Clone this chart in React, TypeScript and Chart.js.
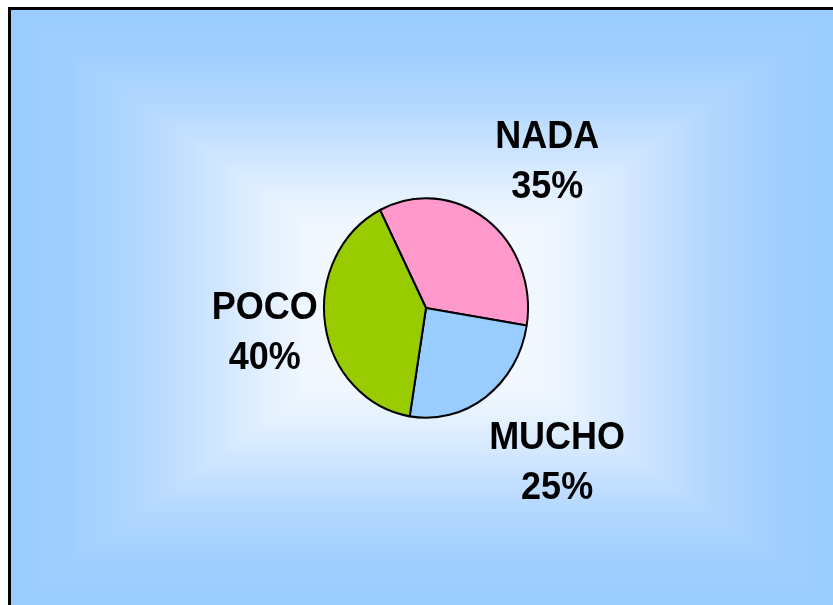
import React, { useEffect, useRef } from "react";
import { Chart, registerables } from "chart.js";

Chart.register(...registerables);

// ---- data ----
const categories = ["NADA", "MUCHO", "POCO"];
const shares = [35, 25, 40];
const sliceColors = ["#FF99CC", "#99CCFF", "#99CC00"];

// ---- styling / layout constants ----
const Y_STRETCH = 1.076;
const labelTurnDeg = [5.0, -7.0, 1.5];
const labelReach = [1.804, 1.892, 1.593];

const gradStops: [number, number[]][] = [
  [0, [255, 255, 255]],
  [0.3, [238, 246, 255]],
  [0.45, [217, 235, 255]],
  [0.55, [200, 226, 255]],
  [0.7, [176, 214, 255]],
  [0.85, [160, 207, 255]],
  [1, [153, 204, 255]],
];

function gradColor(t: number): number[] {
  if (t <= 0) return gradStops[0][1];
  for (let i = 1; i < gradStops.length; i++) {
    const [o1, c1] = gradStops[i];
    const [o0, c0] = gradStops[i - 1];
    if (t <= o1) {
      const f = (t - o0) / (o1 - o0);
      return [0, 1, 2].map((k) => c0[k] + (c1[k] - c0[k]) * f);
    }
  }
  return gradStops[gradStops.length - 1][1];
}

const backdropPlugin = {
  id: "backdrop",
  beforeDraw(chart: any) {
    const ctx = chart.ctx as CanvasRenderingContext2D;
    const W = chart.canvas.width;
    const H = chart.canvas.height;
    const x0 = 10, y0 = 9, x1 = 842, y1 = 607;
    const cx = (x0 + x1) / 2;
    const cy = (y0 + y1) / 2;
    const hw = (x1 - x0) / 2;
    const hh = (y1 - y0) / 2;
    const img = ctx.createImageData(W, H);
    const d = img.data;
    for (let y = 0; y < H; y++) {
      for (let x = 0; x < W; x++) {
        const p = (y * W + x) * 4;
        let c = [255, 255, 255];
        if (x >= x0 && y >= y0) {
          const t = Math.max(Math.abs(x + 0.5 - cx) / hw, Math.abs(y + 0.5 - cy) / hh);
          c = gradColor(t);
        }
        d[p] = c[0];
        d[p + 1] = c[1];
        d[p + 2] = c[2];
        d[p + 3] = 255;
      }
    }
    ctx.putImageData(img, 0, 0);
    ctx.save();
    ctx.lineWidth = 3;
    ctx.strokeStyle = "#000000";
    ctx.strokeRect(9.5, 8.5, 840, 610);
    ctx.restore();
  },
};

const stretchPlugin = {
  id: "stretch",
  beforeDatasetsDraw(chart: any) {
    const arc = chart.getDatasetMeta(0).data[0];
    const ctx = chart.ctx as CanvasRenderingContext2D;
    ctx.save();
    ctx.translate(arc.x, arc.y);
    ctx.scale(1, Y_STRETCH);
    ctx.translate(-arc.x, -arc.y);
  },
  afterDatasetsDraw(chart: any) {
    chart.ctx.restore();
  },
};

const labelPlugin = {
  id: "sliceLabels",
  afterDraw(chart: any) {
    const ctx = chart.ctx as CanvasRenderingContext2D;
    const meta = chart.getDatasetMeta(0);
    const values: number[] = chart.data.datasets[0].data;
    const total = values.reduce((a, b) => a + b, 0);
    ctx.save();
    ctx.font = 'bold 36px "Liberation Sans", Arial, sans-serif';
    ctx.textAlign = "center";
    ctx.textBaseline = "alphabetic";
    ctx.fillStyle = "#000000";
    meta.data.forEach((arc: any, i: number) => {
      const mid = (arc.startAngle + arc.endAngle) / 2 + (labelTurnDeg[i] * Math.PI) / 180;
      const r = arc.outerRadius * labelReach[i];
      const lx = arc.x + Math.cos(mid) * r;
      const ly = arc.y + Math.sin(mid) * r * Y_STRETCH;
      const pct = Math.round((values[i] / total) * 100) + "%";
      ctx.save();
      ctx.translate(lx, ly);
      ctx.scale(1, Y_STRETCH);
      ctx.fillText(chart.data.labels[i], 0, -10.2);
      ctx.fillText(pct, 0, 36);
      ctx.restore();
    });
    ctx.restore();
  },
};

export default function App() {
  const ref = useRef<HTMLCanvasElement>(null);
  useEffect(() => {
    if (!ref.current) return;
    const chart = new Chart(ref.current, {
      type: "pie",
      data: {
        labels: categories,
        datasets: [
          {
            data: shares,
            backgroundColor: sliceColors,
            borderColor: "#000000",
            borderWidth: 2,
          },
        ],
      },
      options: {
        responsive: false,
        animation: false,
        events: [],
        rotation: -26.8,
        radius: 102,
        layout: { padding: { left: 219, right: 200, top: 111, bottom: 100 } },
        plugins: {
          legend: { display: false },
          tooltip: { enabled: false },
        },
      } as any,
      plugins: [backdropPlugin, stretchPlugin, labelPlugin],
    });
    return () => chart.destroy();
  }, []);
  return (
    <div style={{ position: "absolute", left: 0, top: 0, width: 833, height: 605, overflow: "hidden" }}>
      <canvas ref={ref} width={833} height={605} style={{ display: "block" }} />
    </div>
  );
}
